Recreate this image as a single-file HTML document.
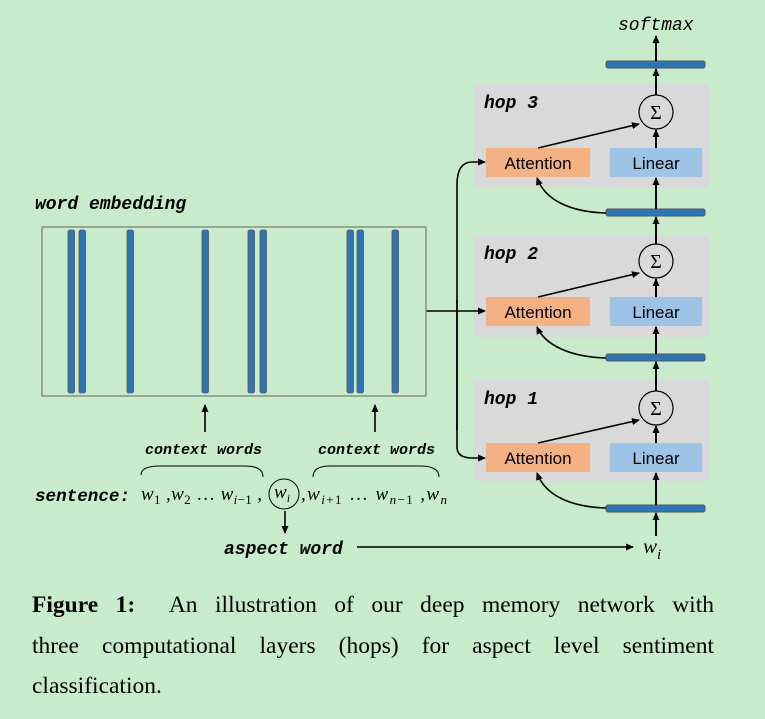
<!DOCTYPE html>
<html><head><meta charset="utf-8"><style>
body{margin:0;background:#c8ebcc;}
svg{display:block}
.m{font-family:"Liberation Mono",monospace;font-weight:bold;font-style:italic}
.cap{position:absolute;left:32px;top:585px;width:682px;font-family:"Liberation Serif",serif;font-size:23.5px;line-height:40.5px;color:#000}
.cap div{text-align:justify;text-align-last:justify;white-space:nowrap}
.cap div.l{text-align-last:left}
</style></head><body>
<div style="position:relative;width:765px;height:719px;overflow:hidden;background:#c8ebcc">
<svg width="765" height="719" viewBox="0 0 765 719">
<defs><marker id="a" markerWidth="8" markerHeight="8" refX="7" refY="4" orient="auto" markerUnits="userSpaceOnUse"><path d="M0,0.5 L8,4 L0,7.5z" fill="#000"/></marker></defs>
<g>
<rect x="473" y="84" width="236" height="103" fill="#d9d9d9"/>
<rect x="473" y="235" width="236" height="102" fill="#d9d9d9"/>
<rect x="473" y="379" width="236" height="102" fill="#d9d9d9"/>
<g fill="#f4b183"><rect x="486" y="148" width="104" height="29"/><rect x="486" y="297" width="104" height="29"/><rect x="486" y="443" width="104" height="29"/></g>
<g fill="#9dc3e6"><rect x="610" y="148" width="92" height="29"/><rect x="610" y="297" width="92" height="29"/><rect x="610" y="443" width="92" height="29"/></g>
<g fill="#2e75b6" stroke="#555" stroke-width="1"><rect x="606" y="61" width="99" height="7" rx="2"/><rect x="606" y="209" width="99" height="7" rx="2"/><rect x="606" y="354" width="99" height="7" rx="2"/><rect x="606" y="505" width="99" height="7" rx="2"/></g>
<g font-family="Liberation Sans,sans-serif" font-size="17" text-anchor="middle" fill="#000">
<text x="538" y="169">Attention</text><text x="538" y="318">Attention</text><text x="538" y="464">Attention</text>
<text x="656" y="169">Linear</text><text x="656" y="318">Linear</text><text x="656" y="464">Linear</text></g>
<g fill="none" stroke="#000" stroke-width="1.2"><circle cx="656" cy="112" r="17"/><circle cx="656" cy="261" r="17"/><circle cx="656" cy="408" r="17"/></g>
<g font-family="Liberation Serif,serif" font-size="20" text-anchor="middle"><text x="656" y="119">Σ</text><text x="656" y="268">Σ</text><text x="656" y="415">Σ</text></g>
<g class="m" font-size="18"><text x="484" y="108">hop 3</text><text x="484" y="259">hop 2</text><text x="484" y="404">hop 1</text>
<text x="618" y="30" font-weight="normal">softmax</text>
<text x="35" y="209">word embedding</text>
<text x="35" y="501" font-size="17.6">sentence:</text>
<text x="224" y="554">aspect word</text>
<text x="145" y="454" font-size="15">context words</text>
<text x="318" y="454" font-size="15">context words</text></g>
<g stroke="#000" stroke-width="2" fill="none" marker-end="url(#a)">
<line x1="656" y1="61" x2="656" y2="36"/>
<line x1="656" y1="95" x2="656" y2="69"/>
<line x1="656" y1="148" x2="656" y2="130"/>
<line x1="656" y1="209" x2="656" y2="178"/>
<line x1="656" y1="244" x2="656" y2="217"/>
<line x1="656" y1="297" x2="656" y2="279"/>
<line x1="656" y1="354" x2="656" y2="327"/>
<line x1="656" y1="391" x2="656" y2="362"/>
<line x1="656" y1="443" x2="656" y2="426"/>
<line x1="656" y1="505" x2="656" y2="473"/>
<line x1="656" y1="536" x2="656" y2="513"/>
</g>
<g stroke="#000" stroke-width="1.6" fill="none" marker-end="url(#a)">
<line x1="538" y1="148" x2="639" y2="124"/>
<line x1="538" y1="297" x2="639" y2="273"/>
<line x1="538" y1="443" x2="639" y2="420"/>
<path d="M606,213 C570,212 545,200 537,178"/>
<path d="M606,358 C570,357 545,345 537,327"/>
<path d="M606,508 C570,507 545,495 537,473"/>
<line x1="426" y1="311" x2="485" y2="311"/>
<path d="M457,430 L457,185 Q457,162 472,162 L485,162"/>
<path d="M457,300 L457,447 Q457,458 472,458 L485,458"/>
<line x1="357" y1="547" x2="633" y2="547"/>
<line x1="285" y1="511" x2="285" y2="533"/>
<line x1="205" y1="432" x2="205" y2="405"/>
<line x1="375" y1="432" x2="375" y2="405"/>
</g>
<rect x="42" y="227" width="384" height="169" fill="none" stroke="#777" stroke-width="1.2"/>
<g fill="#2e75b6" stroke="#555" stroke-width="0.8">
<rect x="68" y="230" width="6.5" height="163" rx="2"/><rect x="79" y="230" width="6.5" height="163" rx="2"/><rect x="127" y="230" width="6.5" height="163" rx="2"/><rect x="202" y="230" width="6.5" height="163" rx="2"/><rect x="248" y="230" width="6.5" height="163" rx="2"/><rect x="260" y="230" width="6.5" height="163" rx="2"/><rect x="347" y="230" width="6.5" height="163" rx="2"/><rect x="357" y="230" width="6.5" height="163" rx="2"/><rect x="392" y="230" width="6.5" height="163" rx="2"/></g>
<g stroke="#000" stroke-width="1" fill="none">
<path d="M141,475 Q141,466 160,466 L245,466 Q263,466 263,477"/>
<path d="M313,477 Q313,466 330,466 L420,466 Q439,466 439,477"/>
<circle cx="284" cy="494" r="15"/></g>
<g font-family="Liberation Serif,serif" font-style="italic" font-size="19" fill="#000">
<text x="141" y="500" textLength="121" lengthAdjust="spacing">w<tspan font-size="13" dy="4" font-style="normal">1</tspan><tspan dy="-4"> ,w</tspan><tspan font-size="13" dy="4" font-style="normal">2</tspan><tspan dy="-4" font-style="normal"> … </tspan>w<tspan font-size="13" dy="4">i</tspan><tspan font-size="13" dy="0" font-style="normal">−1</tspan><tspan dy="-4"> ,</tspan></text>
<text x="274" y="498">w<tspan font-size="12" dy="4">i</tspan></text>
<text x="301" y="500" textLength="146" lengthAdjust="spacing">,w<tspan font-size="13" dy="4">i</tspan><tspan font-size="13" font-style="normal">+1</tspan><tspan dy="-4" font-style="normal"> … </tspan>w<tspan font-size="13" dy="4">n</tspan><tspan font-size="13" font-style="normal">−1</tspan><tspan dy="-4"> ,w</tspan><tspan font-size="13" dy="4">n</tspan></text>
<text x="643" y="553" font-size="21">w<tspan font-size="15" dy="6">i</tspan></text></g>
</g>
</svg>
<div class="cap"><div><b>Figure 1:</b>&nbsp; An illustration of our deep memory network with</div><div>three computational layers (hops) for aspect level sentiment</div><div class="l">classification.</div></div>
</div>
</body></html>
